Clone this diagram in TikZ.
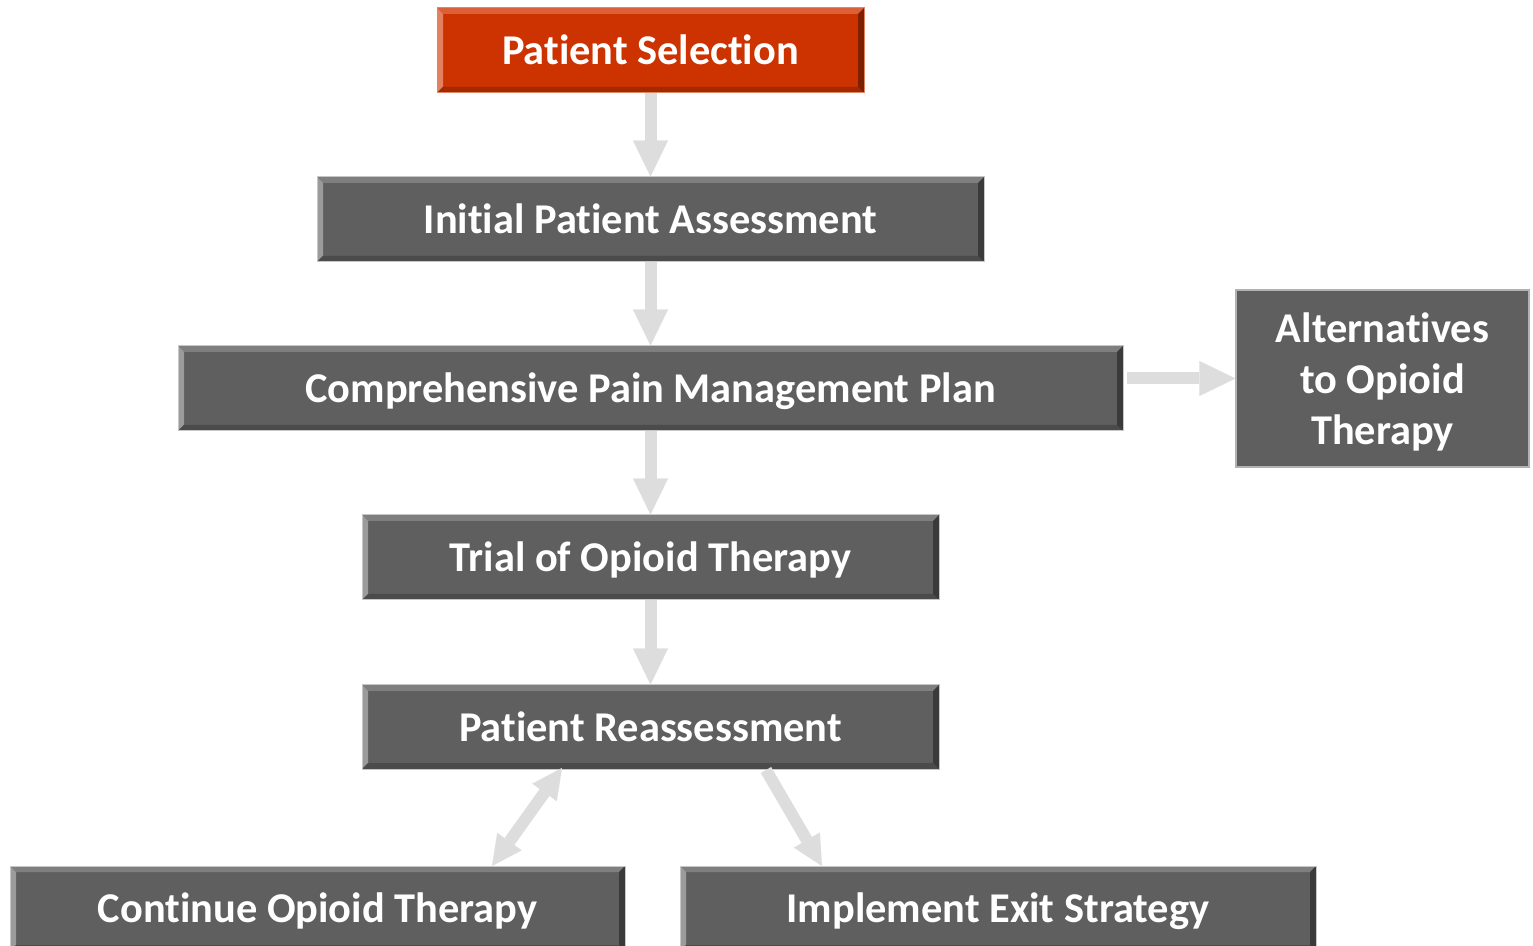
\documentclass[tikz,border=0pt]{standalone}
\usepackage{fontspec}
\setmainfont{Carlito}[Ligatures=NoCommon]
\usetikzlibrary{arrows.meta,calc}
\definecolor{boxgray}{RGB}{95,95,95}
\definecolor{bvtopgray}{RGB}{127,127,127}
\definecolor{bvleftgray}{RGB}{155,155,155}
\definecolor{bvbotgray}{RGB}{75,75,75}
\definecolor{bvrightgray}{RGB}{58,58,58}
\definecolor{boxred}{RGB}{204,51,0}
\definecolor{bvtopred}{RGB}{218,96,58}
\definecolor{bvleftred}{RGB}{226,128,96}
\definecolor{bvbotred}{RGB}{165,41,0}
\definecolor{bvrightred}{RGB}{125,32,0}
\definecolor{arrowgray}{RGB}{221,221,221}
\tikzset{
  bevel/.style n args={4}{path picture={
    \path (path picture bounding box.north west) coordinate (bvnw)
          (path picture bounding box.south east) coordinate (bvse);
    \fill[#1] (bvnw) -- (bvnw -| bvse) -- ($(bvnw -| bvse)+(-3pt,-3pt)$) -- ($(bvnw)+(3pt,-3pt)$) -- cycle;
    \fill[#2] (bvnw) -- ($(bvnw)+(3pt,-3pt)$) -- ($(bvnw |- bvse)+(3pt,3pt)$) -- (bvnw |- bvse) -- cycle;
    \fill[#3] (bvnw |- bvse) -- (bvse) -- ($(bvse)+(-3pt,3pt)$) -- ($(bvnw |- bvse)+(3pt,3pt)$) -- cycle;
    \fill[#4] (bvse) -- (bvnw -| bvse) -- ($(bvnw -| bvse)+(-3pt,-3pt)$) -- ($(bvse)+(-3pt,3pt)$) -- cycle;
  }},
  stepbox/.style={rectangle, fill=boxgray, draw=black!22, line width=0.5pt,
    minimum height=42.5pt, inner sep=0pt, text=white,
    text height=18pt, text depth=4pt,
    font=\fontsize{21.2}{25}\selectfont\bfseries,
    bevel={bvtopgray}{bvleftgray}{bvbotgray}{bvrightgray}},
  redbox/.style={stepbox, fill=boxred, draw=boxred!60,
    bevel={bvtopred}{bvleftred}{bvbotred}{bvrightred}},
  flatbox/.style={rectangle, fill=boxgray, draw=black!30, line width=0.6pt,
    inner sep=0pt, text=white, align=center,
    font=\fontsize{21.2}{25.5}\selectfont\bfseries},
  blockarrow/.style={draw=arrowgray, line width=6pt,
    -{Triangle[width=17.5pt,length=18pt,line width=0.01pt]}},
  slantarrow/.style={draw=arrowgray, line width=6pt,
    -{Triangle[width=15pt,length=15pt,line width=0.01pt]}},
  bislant/.style={draw=arrowgray, line width=6pt,
    {Triangle[width=15pt,length=15pt,line width=0.01pt]}-{Triangle[width=15pt,length=15pt,line width=0.01pt]}}
}
\begin{document}
\begin{tikzpicture}[x=0.5pt,y=-0.5pt]
\useasboundingbox (0,0) rectangle (1533,946);

% Boxes
\node[redbox, minimum width=213.5pt] (sel) at (650.5,50.5) {Patient Selection};
\node[stepbox, minimum width=333.5pt] (assess) at (650.5,219.5) {Initial Patient Assessment};
\node[stepbox, minimum width=472.5pt] (plan) at (650.5,388.5) {Comprehensive Pain Management Plan};
\node[stepbox, minimum width=288.5pt] (trial) at (650.5,557.5) {Trial of Opioid Therapy};
\node[stepbox, minimum width=288.5pt, minimum height=42pt] (reassess) at (650.5,727) {Patient Reassessment};
\node[stepbox, minimum width=307.5pt] (cont) at (317.5,908.5) {Continue Opioid Therapy};
\node[stepbox, minimum width=318pt] (exitst) at (998,908.5) {Implement Exit Strategy};
\node[flatbox, minimum width=146.5pt, minimum height=88.5pt, text height=70.5pt, text depth=4pt]
  (alt) at (1382.5,378.5) {Alternatives\\to Opioid\\Therapy};

% Arrows
\draw[blockarrow] (sel.south) -- (assess.north);
\draw[blockarrow] (assess.south) -- (plan.north);
\draw[blockarrow] (plan.south) -- (trial.north);
\draw[blockarrow] (trial.south) -- (reassess.north);
\draw[blockarrow] ($(plan.east |- alt.west)+(3,0)$) -- (alt.west);

\coordinate (dblA) at (562,768);
\coordinate (dblB) at (492,866);
\coordinate (exA) at (766,770);
\coordinate (exB) at (822,866);
\draw[bislant] (dblA) -- (dblB);
\draw[slantarrow] (exA) -- (exB);

\end{tikzpicture}
\end{document}
